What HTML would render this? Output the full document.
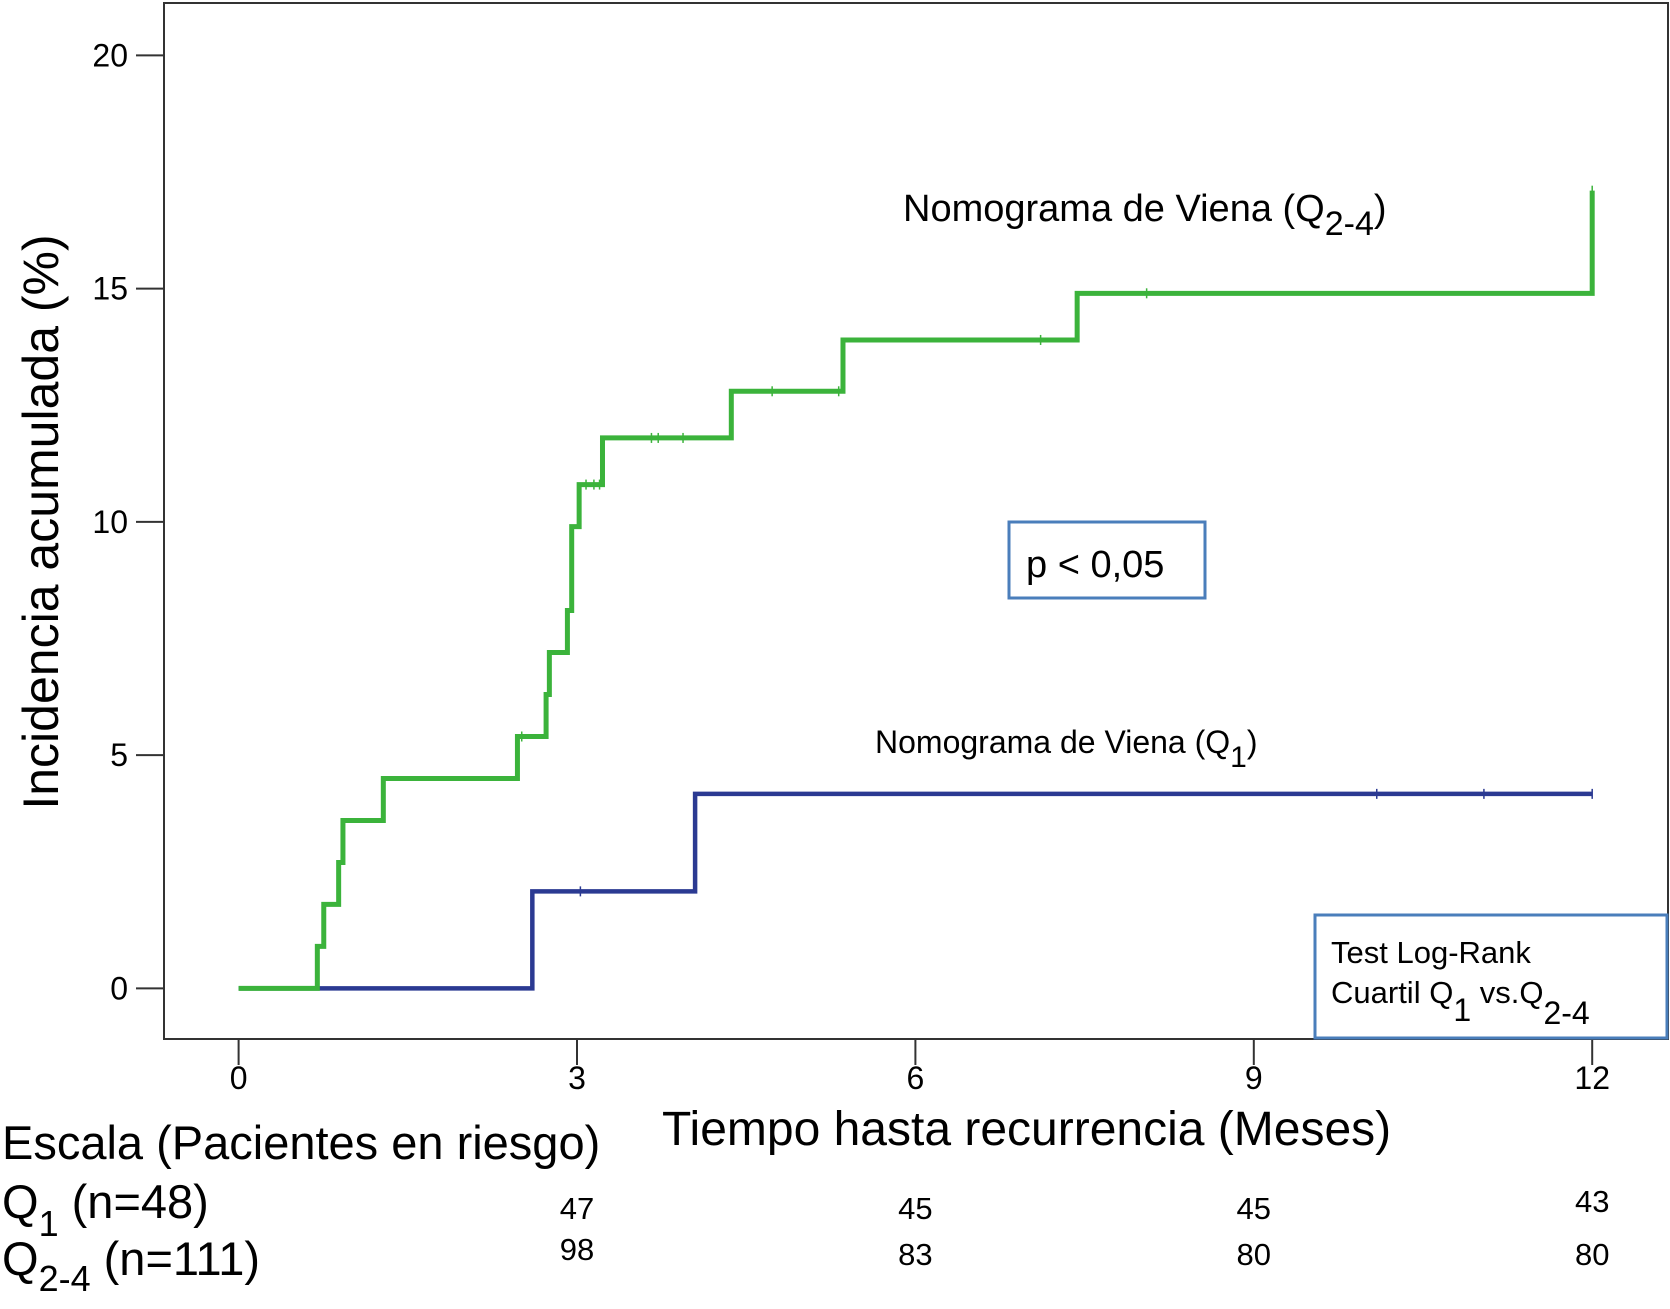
<!DOCTYPE html>
<html><head><meta charset="utf-8"><style>
html,body{margin:0;padding:0;background:#fff;}
svg{display:block;font-family:"Liberation Sans",Arial,sans-serif;}
</style></head><body>
<svg id="chart" width="1670" height="1309" viewBox="0 0 1670 1309" xmlns="http://www.w3.org/2000/svg">
<rect x="164" y="3" width="1504" height="1036" fill="none" stroke="#333" stroke-width="2"/>
<g id="axes"></g>
<g id="series"></g>
<text transform="translate(58,522) rotate(-90)" text-anchor="middle" font-size="50">Incidencia acumulada (%)</text>
<text x="662" y="1145" font-size="48">Tiempo hasta recurrencia (Meses)</text>
<text x="903" y="221" font-size="38">Nomograma de Viena (Q<tspan dy="14" font-size="34">2-4</tspan><tspan dy="-14">)</tspan></text>
<text x="875" y="753" font-size="32">Nomograma de Viena (Q<tspan dy="14" font-size="30">1</tspan><tspan dy="-14">)</tspan></text>
<rect x="1009" y="522" width="196" height="76" fill="#fff" stroke="#4a7ebb" stroke-width="3"/>
<text x="1026" y="577" font-size="38">p &lt; 0,05</text>
<rect x="1315" y="915" width="352" height="123" fill="#fff" stroke="#4a7ebb" stroke-width="3"/>
<text x="1331" y="963" font-size="31">Test Log-Rank</text>
<text x="1331" y="1003" font-size="31">Cuartil Q<tspan dy="18" font-size="32">1</tspan><tspan dy="-18"> vs.Q</tspan><tspan dy="21" font-size="32">2-4</tspan></text>
<text x="2" y="1159" font-size="47">Escala (Pacientes en riesgo)</text>
<text x="2" y="1218" font-size="47">Q<tspan dy="18" font-size="36">1</tspan><tspan dy="-18"> (n=48)</tspan></text>
<text x="2" y="1275" font-size="47">Q<tspan dy="16" font-size="36">2-4</tspan><tspan dy="-16"> (n=111)</tspan></text>
<g id="risk"></g>
</svg>
<script>
const yTicks=[0,5,10,15,20];
const xTicks=[0,3,6,9,12];
const greenT=[0.698,0.755,0.887,0.925,1.283,2.472,2.726,2.755,2.915,2.953,3.019,3.226,4.368,5.358,7.434,12.0];
const greenV=[0.9,1.8,2.7,3.6,4.5,5.4,6.3,7.2,8.1,9.9,10.8,11.8,12.8,13.9,14.9,17.1];
const greenCensT=[2.51,3.08,3.15,3.2,3.66,3.72,3.94,4.73,5.32,7.11,8.05,12.0];
const blueT=[2.604,4.047];
const blueV=[2.08,4.17];
const blueCensT=[3.03,10.09,11.04,12.0];
const endT=12.0;
const riskQ1=[47,45,45,43];
const riskQ24=[98,83,80,80];
const riskTimes=[3,6,9,12];

const NS='http://www.w3.org/2000/svg';
const X=t=>238.6+t*112.8;
const Y=v=>988.4-v*46.65;
function mk(tag,attrs,parent,txt){const e=document.createElementNS(NS,tag);for(const k in attrs)e.setAttribute(k,attrs[k]);if(txt!==undefined)e.textContent=txt;parent.appendChild(e);return e;}
const axes=document.getElementById('axes');
yTicks.forEach(v=>{
  const l=mk('line',{x1:136,x2:164,y1:Y(v),y2:Y(v),stroke:'#333','stroke-width':2},axes);
  
  
  const t=mk('text',{x:128,y:Y(v)+11,'text-anchor':'end','font-size':32},axes,String(v));
  
  
});
xTicks.forEach(v=>{
  const l=mk('line',{x1:X(v),x2:X(v),y1:1039,y2:1065,stroke:'#333','stroke-width':2},axes);
  
  
  const t=mk('text',{x:X(v),y:1089,'text-anchor':'middle','font-size':32},axes,String(v));
  
  
});
function stepAt(ts,vs,t){let v=0;for(let i=0;i<ts.length;i++){if(ts[i]<=t)v=vs[i];}return v;}
function stepPath(ts,vs){let d='M'+X(0)+' '+Y(0);for(let i=0;i<ts.length;i++){d+=' H'+X(ts[i])+' V'+Y(vs[i]);}d+=' H'+X(endT);return d;}
const ser=document.getElementById('series');
const bp=mk('path',{d:stepPath(blueT,blueV),fill:'none',stroke:'#2b3a92','stroke-width':4.5},ser);


blueCensT.forEach(t=>{const c=mk('line',{x1:X(t),x2:X(t),y1:Y(stepAt(blueT,blueV,t))-5,y2:Y(stepAt(blueT,blueV,t))+5,stroke:'#2b3a92','stroke-width':1.5},ser);
  
  });
const gp=mk('path',{d:stepPath(greenT,greenV),fill:'none',stroke:'#3bb33b','stroke-width':5},ser);


greenCensT.forEach(t=>{const y=Y(stepAt(greenT,greenV,t));const c=mk('line',{x1:X(t),x2:X(t),y1:y-5,y2:y+5,stroke:'#3bb33b','stroke-width':1.5},ser);
  
  });
const risk=document.getElementById('risk');
riskTimes.forEach((t,i)=>{
  const a=mk('text',{x:X(t),y:i===3?1212:1219,'text-anchor':'middle','font-size':31},risk,String(riskQ1[i]));
  
  
  const b=mk('text',{x:X(t),y:i===0?1260:1265,'text-anchor':'middle','font-size':31},risk,String(riskQ24[i]));
  
  
});
</script>
</body></html>
